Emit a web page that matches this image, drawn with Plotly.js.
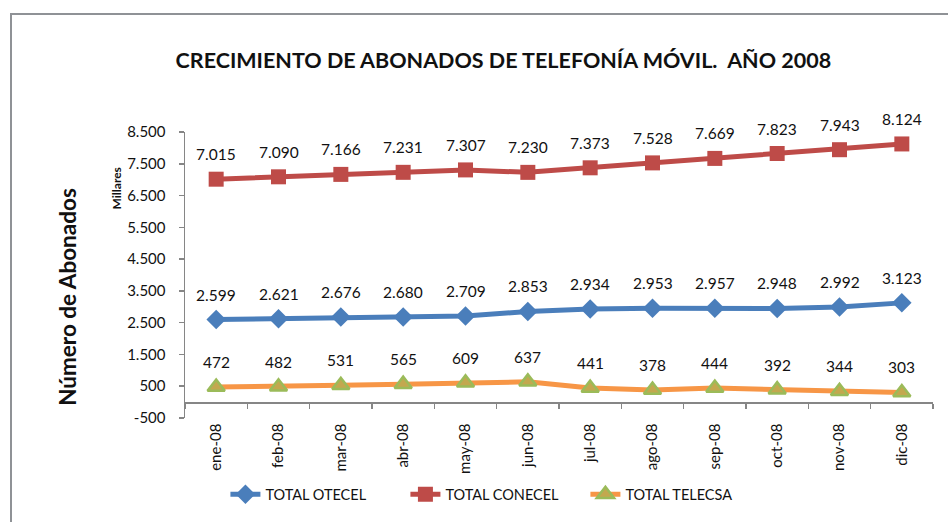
<!DOCTYPE html>
<html>
<head>
<meta charset="utf-8">
<script src="https://cdn.plot.ly/plotly-3.0.1.min.js"></script>
<style>
  html, body { margin: 0; padding: 0; background: #fff; overflow: hidden; }
  #wrap { position: relative; width: 948px; height: 522px; }
  #chart { width: 948px; height: 522px; }
  #frame { position: absolute; left: 10px; top: 13px; width: 1000px; height: 600px;
           border: 2px solid #8f9296; pointer-events: none; box-sizing: border-box; }
</style>
</head>
<body>
<div id="wrap">
  <div id="chart"></div>
  <div id="frame"></div>
</div>
<script>
const months = ["ene-08","feb-08","mar-08","abr-08","may-08","jun-08","jul-08","ago-08","sep-08","oct-08","nov-08","dic-08"];
const otecel  = [2599, 2621, 2676, 2680, 2709, 2853, 2934, 2953, 2957, 2948, 2992, 3123];
const conecel = [7015, 7090, 7166, 7231, 7307, 7230, 7373, 7528, 7669, 7823, 7943, 8124];
const telecsa = [472, 482, 531, 565, 609, 637, 441, 378, 444, 392, 344, 303];
const yTickVals = [-500, 500, 1500, 2500, 3500, 4500, 5500, 6500, 7500, 8500];
const yTickText = ["-500", "500", "1.500", "2.500", "3.500", "4.500", "5.500", "6.500", "7.500", "8.500"];

const FONT = "Lato, 'Open Sans', sans-serif";
const fmt = v => {
  const s = String(Math.abs(v));
  const t = s.replace(/\B(?=(\d{3})+(?!\d))/g, ".");
  return (v < 0 ? "-" : "") + t;
};

const series = [
  {name: "TOTAL OTECEL", y: otecel, line: "#4A7EBB", marker: {symbol: "diamond", size: 15, color: "#4A7EBB"}},
  {name: "TOTAL CONECEL", y: conecel, line: "#BE4B48", marker: {symbol: "square", size: 15, color: "#BE4B48"}},
  {name: "TOTAL TELECSA", y: telecsa, line: "#F79646", marker: {symbol: "triangle-up", size: 15, color: "#C3A84F", line: {color: "#9BBB59", width: 2.5}}}
];

const traces = series.map(s => ({
  type: "scatter", mode: "lines+markers", name: s.name,
  x: months, y: s.y,
  line: {color: s.line, width: 5},
  marker: s.marker,
  hoverinfo: "skip"
}));

const annotations = [];
series.forEach(s => {
  s.y.forEach((v, i) => {
    annotations.push({
      x: months[i], y: v, xref: "x", yref: "y",
      text: fmt(v), showarrow: false, yshift: 25,
      font: {family: FONT, size: 15.5, color: "#111"}
    });
  });
});
annotations.push({
  xref: "paper", yref: "paper", x: -0.177, y: 0.424,
  text: "<b>Número de Abonados</b>", textangle: -90, showarrow: false,
  font: {family: FONT, size: 22.5, color: "#111"}
});
annotations.push({
  xref: "paper", yref: "paper", x: -0.104, y: 0.882,
  text: "<b>Millares</b>", textangle: -90, showarrow: false,
  font: {family: FONT, size: 12, color: "#111"}
});

const yMin = -500, yMax = 8500;
const layout = {
  width: 948, height: 522,
  margin: {l: 185, r: 15, t: 132, b: 102},
  paper_bgcolor: "rgba(0,0,0,0)", plot_bgcolor: "rgba(0,0,0,0)",
  title: {
    text: "<b>CRECIMIENTO DE ABONADOS DE TELEFONÍA MÓVIL.  AÑO 2008</b>",
    font: {family: FONT, size: 21.5, color: "#111"},
    xref: "container", yref: "container", x: 0.531, y: 0.885,
    xanchor: "center", yanchor: "middle"
  },
  xaxis: {
    type: "category", range: [-0.5, months.length - 0.5],
    anchor: "free", position: (0 - yMin) / (yMax - yMin),
    showline: true, linecolor: "#868686", linewidth: 1.5,
    ticks: "outside", tickson: "boundaries", ticklen: 5, tickcolor: "#868686", tickwidth: 1.5,
    tickangle: -90, ticklabelstandoff: 14,
    tickfont: {family: FONT, size: 15, color: "#111"},
    showgrid: false, zeroline: false, fixedrange: true
  },
  yaxis: {
    range: [yMin, yMax],
    tickvals: yTickVals, ticktext: yTickText,
    showline: true, linecolor: "#868686", linewidth: 1.5,
    ticks: "outside", ticklen: 5, tickcolor: "#868686", tickwidth: 1.5,
    ticklabelstandoff: 10,
    tickfont: {family: FONT, size: 15, color: "#111"},
    showgrid: false, zeroline: false, fixedrange: true
  },
  showlegend: true,
  legend: {
    orientation: "h", x: 0.415, xanchor: "center", y: -0.267, yanchor: "middle",
    font: {family: FONT, size: 14.5, color: "#111"},
    entrywidth: 135, traceorder: "normal"
  },
  annotations: annotations
};

Plotly.newPlot("chart", traces, layout, {displayModeBar: false, staticPlot: true});
</script>
</body>
</html>
